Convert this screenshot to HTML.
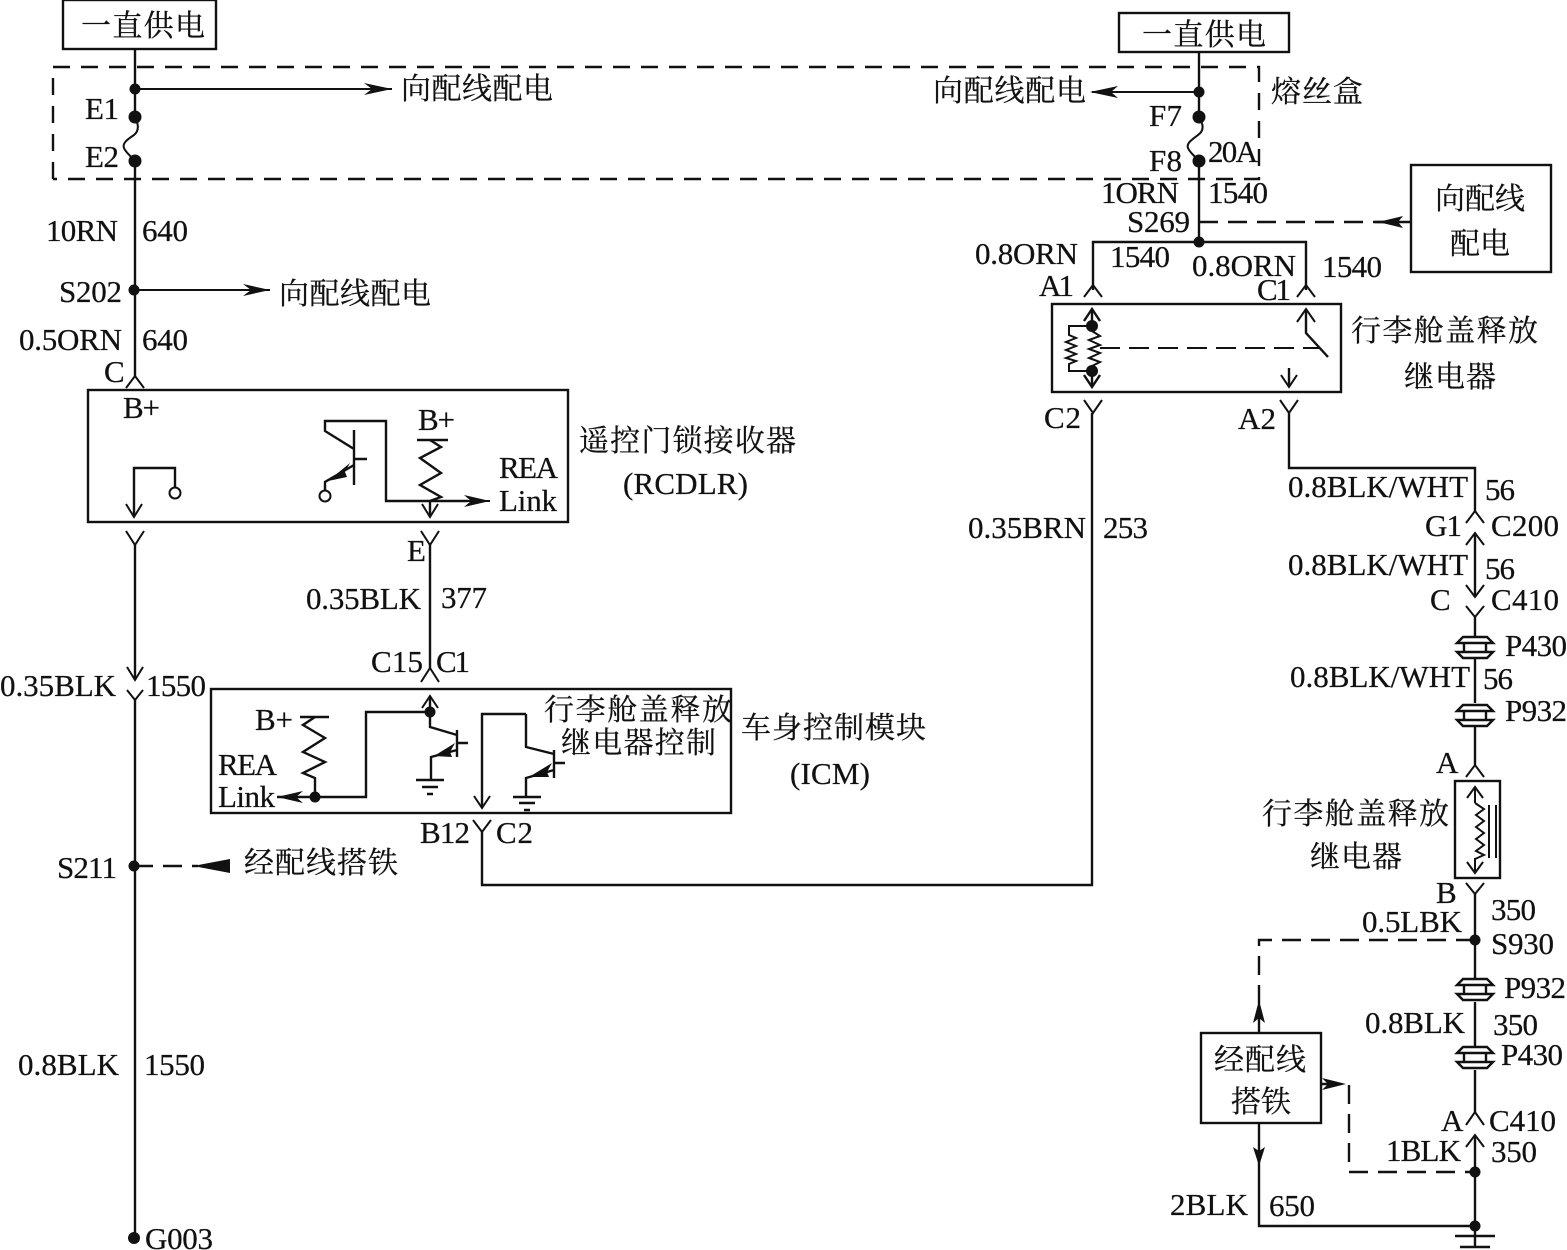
<!DOCTYPE html>
<html><head><meta charset="utf-8"><style>
html,body{margin:0;padding:0;background:#fff}
svg{display:block}
text{font-family:"Liberation Serif","Noto Serif CJK SC",serif;font-size:31px;fill:#111;stroke:#111;stroke-width:.25}
.c{font-size:30px}
.w{fill:none;stroke:#111;stroke-width:2.4}
.t{fill:none;stroke:#111;stroke-width:2}
.d{fill:none;stroke:#111;stroke-width:2.4;stroke-dasharray:19 10}
.f{fill:none;stroke:#111;stroke-width:2.4;stroke-dasharray:17 11}
.b{fill:#111;stroke:none}
</style></head><body>
<svg width="1567" height="1250" viewBox="0 0 1567 1250" xmlns="http://www.w3.org/2000/svg">
<defs>
<g id="up"><path class="t" d="M-9 12L0 0L9 12"/></g>
<g id="dn"><path class="t" d="M-9 -12L0 0L9 -12"/></g>
<g id="pl"><path class="w" d="M-18 6H18L12 0H-12ZM-18 15H18L12 21H-12ZM-11 6V15M11 6V15"/></g>
</defs>

<!-- fuse box -->
<path class="f" d="M53 179V67H1259V179H53"/>

<!-- supply boxes -->
<rect class="w" x="63" y="0" width="153" height="49"/>
<rect class="w" x="1119" y="13" width="170" height="39"/>
<rect class="w" x="1411" y="165" width="140" height="107"/>

<!-- left main wire -->
<path class="w" d="M135 49V117M135 161V376M135 545V680M135 700V1238"/>
<path class="t" d="M135 117C139 125 139 131 134 135C128 139 122 143 124 148C126 153 131 156 135 161"/>
<circle class="b" cx="135" cy="89" r="5.5"/><circle class="b" cx="135" cy="117" r="6.5"/><circle class="b" cx="135" cy="161" r="6.5"/>
<circle class="b" cx="134" cy="290" r="5.5"/><circle class="b" cx="134" cy="866" r="5.5"/><circle class="b" cx="134" cy="1238" r="6"/>
<path class="t" d="M135 89H392M135 290H270"/>
<path class="b" d="M392 89L364 83L372 89L364 95ZM270 290L243 284L251 290L243 296Z"/>
<use href="#up" x="135" y="376"/>
<path class="t" d="M126 531L135 545L144 531M127 667L135 680L143 667M127 690L135 700L143 690"/>
<path class="d" d="M134 866H198"/>
<path class="b" d="M193 866L230 859V873Z"/>

<!-- RCDLR -->
<rect class="w" x="88" y="390" width="480" height="132"/>
<path class="w" d="M134 517V468H175V488"/>
<path class="t" d="M126 504L134 517L142 504"/>
<circle class="t" cx="175" cy="493" r="5.5"/>
<path class="w" d="M354 430V485M354 459H367M354 449L325 431V421H386V501H468"/>
<path class="t" d="M468 501H490"/>
<path class="b" d="M490 501L464 495L471 501L464 507Z"/>
<path class="w" d="M354 465L325 482V491"/>
<path class="b" d="M328 481L350 463L345 472L347 477Z"/>
<circle class="t" cx="325" cy="496" r="5.5"/>
<path class="w" d="M417 440H448"/>
<path class="w" d="M430 440L441 447L420 458L441 473L420 485L441 497L430 501V517"/>
<path class="t" d="M422 504L430 517L438 504M421 531L430 545L439 531"/>
<path class="w" d="M430 545V668"/>

<!-- ICM -->
<path class="t" d="M421 682L430 668L439 682"/>
<rect class="w" x="211" y="689" width="520" height="124"/>
<path class="w" d="M430 696V727L457 735M457 730V757M457 743H468M457 750L431 757V780M416 780H444M422 787H438M427 794H433"/>
<path class="t" d="M422 708L430 696L438 708"/>
<circle class="b" cx="430" cy="712" r="5.5"/>
<path class="b" d="M434 756L455 743L450 752L452 757Z"/>
<path class="w" d="M430 712H366V797H277"/>
<path class="b" d="M277 797L303 791L296 797L303 803Z"/>
<circle class="b" cx="315" cy="797" r="5.5"/>
<path class="w" d="M300 717H329"/>
<path class="w" d="M315 717L303 725L325 738L303 752L325 762L303 773L315 778V797"/>
<path class="w" d="M526 714H482V808M526 714V747L554 754M554 750V778M554 763H565M554 770L526 778V797M513 797H541M519 803H535M524 810H530"/>
<path class="b" d="M529 777L552 763L547 772L549 777Z"/>
<path class="t" d="M474 796L482 808L490 796M473 820L482 832L491 820"/>
<path class="w" d="M482 832V885H1092V413"/>

<!-- right top -->
<path class="w" d="M1199 52V117M1199 161V242M1093 290V242H1306V290"/>
<path class="t" d="M1199 117C1204 125 1204 131 1198 135C1193 139 1186 143 1188 148C1190 153 1195 156 1199 161"/>
<circle class="b" cx="1199" cy="92" r="5.5"/><circle class="b" cx="1199" cy="117" r="6.5"/><circle class="b" cx="1199" cy="161" r="6.5"/><circle class="b" cx="1199" cy="242" r="5.5"/>
<path class="t" d="M1199 92H1092"/>
<path class="b" d="M1090 92L1118 86L1111 92L1118 98Z"/>
<path class="d" d="M1199 222H1386"/>
<path class="w" d="M1375 222H1410"/>
<path class="b" d="M1378 222L1403 216L1398 222L1403 228Z"/>
<path class="t" d="M1084 297L1093 285L1102 297M1297 297L1306 285L1315 297"/>

<!-- relay top -->
<rect class="w" x="1052" y="304" width="289" height="88"/>
<path class="w" d="M1092 309V331M1092 366V387"/>
<path class="w" d="M1084 321L1092 309L1100 321M1084 375L1092 387L1100 375"/>
<circle class="b" cx="1092" cy="326" r="6"/><circle class="b" cx="1092" cy="371" r="6"/>
<path class="t" d="M1092 326H1069V335L1076 338L1066 342L1076 346L1066 350L1076 354L1066 358L1076 361L1069 364V371H1092"/>
<path class="t" d="M1092 331L1100 336L1089 340L1100 345L1089 349L1100 353L1089 358L1100 362L1092 366"/>
<path class="t" d="M1100 348H1320" stroke-dasharray="20 9"/>
<path class="w" d="M1306 309V333L1328 357"/>
<path class="t" d="M1297 322L1306 309L1315 322"/>
<path class="w" d="M1289 368V387"/>
<path class="t" d="M1281 375L1289 387L1297 375"/>
<path class="t" d="M1084 400L1093 413L1102 400M1280 400L1289 413L1298 400"/>
<path class="w" d="M1289 413V468H1475V512"/>

<!-- right column -->
<path class="t" d="M1466 523L1475 511L1484 523"/>
<path class="w" d="M1475 533V597"/>
<path class="t" d="M1466 545L1475 533L1484 545M1466 585L1475 597L1484 585M1466 606L1475 617L1484 606"/>
<path class="w" d="M1475 617V637M1475 658V703M1475 726V765"/>
<use href="#pl" x="1475" y="637"/><use href="#pl" x="1475" y="705"/>
<path class="t" d="M1466 777L1475 765L1484 777"/>
<rect class="w" x="1455" y="781" width="45" height="97"/>
<path class="t" d="M1475 787V803M1475 858V873M1467 798L1475 787L1483 798M1467 862L1475 873L1483 862"/>
<path class="t" d="M1475 803L1484 809L1476 815L1484 821L1476 827L1484 833L1476 839L1484 845L1476 851L1484 855L1475 859"/>
<path class="t" d="M1489 805V858M1496 805V858"/>
<path class="t" d="M1466 883L1475 894L1484 883"/>
<path class="w" d="M1475 894V980M1475 1002V1048M1475 1070V1112M1475 1135V1247"/>
<circle class="b" cx="1475" cy="940" r="5.5"/><circle class="b" cx="1475" cy="1172" r="5.5"/><circle class="b" cx="1475" cy="1226" r="5.5"/>
<use href="#pl" x="1475" y="979"/><use href="#pl" x="1475" y="1047"/>
<path class="t" d="M1466 1125L1475 1112L1484 1125M1466 1147L1475 1135L1484 1147"/>
<path class="w" d="M1455 1236H1495M1460 1247H1490"/>
<path class="d" d="M1475 940H1259V1033"/>
<path class="d" d="M1321 1084H1349V1172H1475"/>
<rect class="w" x="1201" y="1033" width="120" height="90"/>
<path class="w" d="M1259 1123V1226H1475"/>
<path class="b" d="M1259 1000L1253 1023L1259 1018L1265 1023ZM1259 1166L1253 1147L1259 1151L1265 1147ZM1346 1084L1322 1078L1328 1084L1322 1090Z"/>
<path class="t" d="M1259 1000V1033"/>

<!-- text left -->
<text class="c" x="81" y="36" textLength="124" font-size="32">一直供电</text>
<text class="c" x="401" y="99" textLength="152">向配线配电</text>
<text x="85" y="119" textLength="34">E1</text>
<text x="85" y="167" textLength="34">E2</text>
<text x="46" y="241" textLength="72">10RN</text>
<text x="142" y="241" textLength="46">640</text>
<text x="59" y="302" textLength="63">S202</text>
<text class="c" x="279" y="304" textLength="152">向配线配电</text>
<text x="19" y="350" textLength="103">0.5ORN</text>
<text x="142" y="350" textLength="46">640</text>
<text x="104" y="382" textLength="20">C</text>
<text x="123" y="418" textLength="37">B+</text>
<text class="c" x="579" y="451" textLength="217">遥控门锁接收器</text>
<text x="623" y="494" textLength="125">(RCDLR)</text>
<text x="418" y="430" textLength="37">B+</text>
<text x="499" y="478" textLength="59">REA</text>
<text x="499" y="511" textLength="58">Link</text>
<text x="407" y="561" textLength="20">E</text>
<text x="306" y="609" textLength="115">0.35BLK</text>
<text x="441" y="608" textLength="46">377</text>
<text x="371" y="672" textLength="52">C15</text>
<text x="436" y="672" textLength="34">C1</text>
<text x="0" y="696" textLength="116">0.35BLK</text>
<text x="146" y="696" textLength="60">1550</text>
<text x="255" y="730" textLength="38">B+</text>
<text x="218" y="775" textLength="59">REA</text>
<text x="218" y="807" textLength="57">Link</text>
<text class="c" x="544" y="720" textLength="188">行李舱盖释放</text>
<text class="c" x="561" y="753" textLength="155">继电器控制</text>
<text class="c" x="741" y="738" textLength="185">车身控制模块</text>
<text x="790" y="784" textLength="80">(ICM)</text>
<text x="420" y="843" textLength="50">B12</text>
<text x="496" y="843" textLength="37">C2</text>
<text x="57" y="878" textLength="60">S211</text>
<text class="c" x="244" y="873" textLength="154">经配线搭铁</text>
<text x="18" y="1075" textLength="101">0.8BLK</text>
<text x="144" y="1075" textLength="61">1550</text>
<text x="145" y="1249" textLength="68">G003</text>

<!-- text right -->
<text class="c" x="1142" y="45" textLength="124" font-size="32">一直供电</text>
<text class="c" x="933" y="101" textLength="153">向配线配电</text>
<text x="1149" y="126" textLength="33">F7</text>
<text x="1149" y="171" textLength="33">F8</text>
<text x="1208" y="162" textLength="50">20A</text>
<text class="c" x="1271" y="102" textLength="92">熔丝盒</text>
<text x="1101" y="203" textLength="78">1ORN</text>
<text x="1208" y="203" textLength="60">1540</text>
<text x="1127" y="232" textLength="63">S269</text>
<text class="c" x="1435" y="209" textLength="90">向配线</text>
<text class="c" x="1450" y="254" textLength="60">配电</text>
<text x="975" y="264" textLength="103">0.8ORN</text>
<text x="1110" y="267" textLength="60">1540</text>
<text x="1192" y="276" textLength="104">0.8ORN</text>
<text x="1322" y="277" textLength="60">1540</text>
<text x="1039" y="296" textLength="35">A1</text>
<text x="1257" y="300" textLength="34">C1</text>
<text class="c" x="1351" y="341" textLength="187">行李舱盖释放</text>
<text class="c" x="1404" y="387" textLength="92">继电器</text>
<text x="1044" y="428" textLength="37">C2</text>
<text x="1238" y="429" textLength="38">A2</text>
<text x="968" y="538" textLength="118">0.35BRN</text>
<text x="1103" y="538" textLength="45">253</text>
<text x="1288" y="497" textLength="180">0.8BLK/WHT</text>
<text x="1485" y="500" textLength="30">56</text>
<text x="1425" y="536" textLength="37">G1</text>
<text x="1491" y="536" textLength="68">C200</text>
<text x="1288" y="575" textLength="180">0.8BLK/WHT</text>
<text x="1485" y="579" textLength="30">56</text>
<text x="1430" y="610" textLength="20">C</text>
<text x="1491" y="610" textLength="68">C410</text>
<text x="1505" y="656" textLength="62">P430</text>
<text x="1290" y="687" textLength="180">0.8BLK/WHT</text>
<text x="1483" y="689" textLength="30">56</text>
<text x="1505" y="721" textLength="62">P932</text>
<text x="1436" y="773" textLength="22">A</text>
<text class="c" x="1262" y="824" textLength="187">行李舱盖释放</text>
<text class="c" x="1310" y="867" textLength="92">继电器</text>
<text x="1436" y="903" textLength="20">B</text>
<text x="1491" y="920" textLength="45">350</text>
<text x="1362" y="932" textLength="100">0.5LBK</text>
<text x="1491" y="954" textLength="63">S930</text>
<text x="1504" y="998" textLength="62">P932</text>
<text x="1365" y="1033" textLength="100">0.8BLK</text>
<text x="1493" y="1035" textLength="45">350</text>
<text x="1501" y="1065" textLength="62">P430</text>
<text x="1441" y="1131" textLength="22">A</text>
<text x="1489" y="1131" textLength="67">C410</text>
<text x="1386" y="1161" textLength="75">1BLK</text>
<text x="1491" y="1162" textLength="46">350</text>
<text x="1170" y="1215" textLength="78">2BLK</text>
<text x="1269" y="1216" textLength="46">650</text>
<text class="c" x="1214" y="1070" textLength="92">经配线</text>
<text class="c" x="1231" y="1112" textLength="60">搭铁</text>
</svg>
</body></html>
